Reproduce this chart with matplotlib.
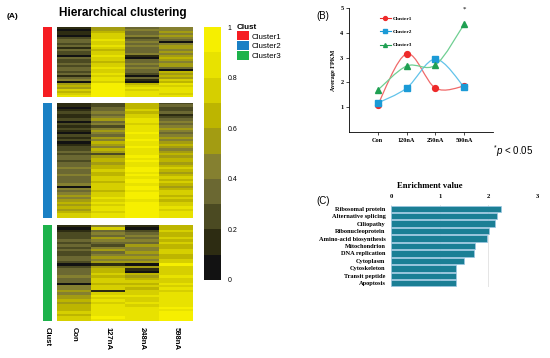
import numpy as np
import matplotlib.pyplot as plt
from matplotlib.colors import ListedColormap, BoundaryNorm
from matplotlib.path import Path
from matplotlib.patches import PathPatch, Patch
from matplotlib.lines import Line2D

plt.rcParams['font.family'] = 'Liberation Sans'
plt.rcParams['mathtext.fontset'] = 'custom'
plt.rcParams['mathtext.rm'] = 'Liberation Sans'
plt.rcParams['mathtext.it'] = 'Liberation Sans:italic'

W, H = 550, 358

def box(x0, y0, x1, y1):
    # pixel box -> figure fraction
    return [x0 / W, 1 - y1 / H, (x1 - x0) / W, (y1 - y0) / H]

# ---------- (A) heatmap: colour level (0..9) per gene row ----------
samples = ['Con', '127nA', '248nA', '598nA']
clusters = ['Cluster1', 'Cluster2', 'Cluster3']
cluster_colors = ['#f51d22', '#1a80c4', '#1db24b']

c1_con = [1, 0, 1, 1, 0, 2, 3, 3, 2, 3, 1, 3, 2, 2, 0, 3, 2, 2, 3, 2, 3, 3, 2, 3, 1, 3, 4, 0, 5, 6, 5, 7, 6, 7, 8]
c1_127 = [5, 5, 6, 7, 7, 7, 8, 7, 7, 8, 7, 6, 7, 7, 8, 7, 7, 6, 7, 7, 8, 7, 7, 8, 7, 8, 8, 7, 9, 9, 9, 9, 9, 9, 9]
c1_248 = [3, 4, 3, 3, 4, 2, 3, 4, 3, 4, 3, 3, 3, 4, 1, 0, 3, 3, 4, 3, 4, 3, 3, 2, 0, 3, 1, 0, 6, 7, 8, 7, 8, 8, 8]
c1_598 = [4, 4, 5, 4, 5, 4, 3, 0, 4, 5, 5, 4, 5, 4, 5, 6, 5, 4, 5, 5, 3, 0, 6, 5, 6, 5, 7, 6, 8, 7, 8, 8, 8, 7, 8]

c2_con = [1, 1, 0, 1, 2, 1, 1, 2, 0, 2, 1, 2, 1, 0, 2, 1, 2, 0, 1, 2, 2, 3, 2, 3, 3, 2, 3, 3, 4, 3, 3, 4, 3, 3, 3, 4, 0, 4, 3, 4, 5, 4, 5, 6, 5, 6, 5, 6, 7, 7]
c2_127 = [2, 2, 3, 3, 4, 3, 4, 5, 3, 4, 2, 4, 5, 4, 3, 5, 4, 6, 5, 4, 6, 5, 2, 5, 6, 6, 5, 6, 6, 7, 6, 6, 7, 7, 6, 7, 7, 7, 6, 7, 7, 8, 7, 8, 7, 8, 8, 7, 8, 8]
c2_248 = [6, 6, 6, 7, 6, 7, 7, 8, 8, 7, 8, 8, 8, 9, 8, 8, 9, 8, 8, 9, 8, 8, 8, 9, 8, 9, 8, 8, 9, 9, 8, 9, 8, 9, 9, 8, 9, 9, 8, 9, 9, 9, 8, 9, 9, 9, 9, 9, 9, 9]
c2_598 = [2, 3, 2, 2, 3, 1, 2, 3, 4, 3, 4, 5, 4, 3, 4, 5, 4, 5, 6, 5, 4, 5, 6, 5, 6, 6, 5, 6, 7, 6, 5, 6, 7, 6, 7, 6, 5, 6, 7, 7, 6, 7, 6, 7, 7, 8, 7, 8, 8, 8]

c3_con = [1, 0, 1, 2, 2, 2, 3, 2, 3, 2, 3, 2, 2, 3, 3, 2, 0, 2, 3, 3, 3, 4, 3, 3, 0, 4, 4, 5, 4, 5, 5, 6, 5, 6, 6, 6, 7, 6, 7, 7]
c3_127 = [4, 7, 3, 4, 3, 5, 4, 3, 2, 4, 5, 3, 4, 5, 4, 5, 1, 5, 6, 6, 7, 6, 7, 7, 6, 7, 7, 1, 7, 8, 7, 8, 7, 8, 8, 8, 8, 8, 9, 8]
c3_248 = [1, 0, 2, 3, 4, 3, 4, 3, 5, 4, 4, 5, 4, 5, 4, 5, 0, 5, 1, 0, 6, 5, 6, 7, 6, 7, 6, 7, 7, 8, 7, 7, 8, 7, 8, 8, 8, 8, 8, 8]
c3_598 = [6, 6, 7, 6, 6, 7, 6, 7, 6, 6, 7, 7, 6, 6, 7, 7, 9, 7, 7, 7, 7, 8, 7, 7, 8, 7, 8, 7, 8, 8, 8, 8, 8, 8, 9, 8, 9, 9, 9, 9]

# ---------- (B) line chart ----------
doses = ['Con', '120nA', '250nA', '500nA']
fpkm_c1 = [1.10, 3.15, 1.77, 1.85]
fpkm_c2 = [1.17, 1.77, 2.94, 1.81]
fpkm_c3 = [1.69, 2.66, 2.70, 4.35]

# ---------- (C) enrichment ----------
terms = ['Ribosomal protein', 'Alternative splicing', 'Ciliopathy', 'Ribonucleoprotein',
         'Amino-acid biosynthesis', 'Mitochondrion', 'DNA replication', 'Cytoplasm',
         'Cytoskeleton', 'Transit peptide', 'Apoptosis']
enrichment = [2.26, 2.17, 2.13, 2.02, 1.97, 1.72, 1.71, 1.51, 1.34, 1.34, 1.34]

heat_colors = ['#121212', '#2d2c12', '#4b4a22', '#6b6832', '#858030',
               '#a39c12', '#bdb500', '#d6cf00', '#e8e200', '#f6ef00']
cmap = ListedColormap(heat_colors)
norm = BoundaryNorm(np.linspace(0, 1, 11), cmap.N)

fig = plt.figure(figsize=(5.5, 3.58), dpi=100)

fig.text(7 / W, 1 - 17 / H, '(A)', fontsize=6, weight='bold', va='center')
fig.text(123 / W, 1 - 13 / H, 'Hierarchical clustering', fontsize=8.5, weight='bold',
         ha='center', va='center')

blocks = [
    (np.array([c1_con, c1_127, c1_248, c1_598]).T, (27, 97)),
    (np.array([c2_con, c2_127, c2_248, c2_598]).T, (103, 218)),
    (np.array([c3_con, c3_127, c3_248, c3_598]).T, (225, 321)),
]
clust_cmap = ListedColormap(cluster_colors)
for i, (levels, (y0, y1)) in enumerate(blocks):
    ax = fig.add_axes(box(57, y0, 192, y1))
    ax.imshow((levels + 0.5) / 10, cmap=cmap, norm=norm, aspect='auto',
              interpolation='nearest')
    ax.axis('off')
    sb = fig.add_axes(box(43, y0, 52, y1))
    sb.imshow([[i]], cmap=clust_cmap, vmin=0, vmax=2, aspect='auto')
    sb.axis('off')

fig.text(47.5 / W, 1 - 327 / H, 'Clust', fontsize=5.5, weight='bold', rotation=-90,
         ha='center', va='top')
for j, s in enumerate(samples):
    fig.text((74 + 34 * j) / W, 1 - 327 / H, s, fontsize=5.5, weight='bold',
             rotation=-90, ha='center', va='top')

cax = fig.add_axes(box(204, 27, 221, 280))
sm = plt.cm.ScalarMappable(cmap=cmap, norm=norm)
cb = fig.colorbar(sm, cax=cax, ticks=[0, 0.2, 0.4, 0.6, 0.8, 1])
cb.outline.set_visible(False)
cb.set_ticklabels(['0', '0.2', '0.4', '0.6', '0.8', '1'])
cax.minorticks_off()
cax.tick_params(which='both', length=0, labelsize=5, pad=5)

handles = [Patch(facecolor=c, edgecolor='none') for c in cluster_colors]
fig.legend(handles, clusters, loc='upper left', bbox_to_anchor=(237 / W, 1 - 24 / H),
           frameon=False, fontsize=5.8, title='Clust',
           title_fontproperties={'weight': 'bold', 'size': 5.8}, alignment='left',
           handlelength=1.5, handleheight=1.35, handletextpad=0.3, labelspacing=0.05,
           borderpad=0, borderaxespad=0)

# ---------- panel B ----------
serif = 'Liberation Serif'
axb = fig.add_axes(box(349, 8, 493, 132))
xs = np.arange(len(doses))

def smooth_path(x, y):
    p = np.column_stack([x, y]).astype(float)
    ext = np.vstack([p[0], p, p[-1]])
    verts = [p[0]]
    codes = [Path.MOVETO]
    for k in range(len(p) - 1):
        a, b, c, d = ext[k], ext[k + 1], ext[k + 2], ext[k + 3]
        verts += [b + (c - a) / 6, c - (d - b) / 6, c]
        codes += [Path.CURVE4] * 3
    return Path(verts, codes)

series = [(fpkm_c1, 'Cluster1', '#ee2a2a', '#f06a6a', 'o', 4.2),
          (fpkm_c2, 'Cluster2', '#1b9ad6', '#62c3ea', 's', 4.2),
          (fpkm_c3, 'Cluster3', '#1fa052', '#6fcf92', '^', 4.4)]
leg_handles = []
for vals, name, mc, lc, mk, ms in series:
    axb.add_patch(PathPatch(smooth_path(xs, vals), facecolor='none', edgecolor=lc, lw=0.9))
    axb.plot(xs, vals, ls='none', marker=mk, color=mc, ms=ms, zorder=3)
    leg_handles.append(Line2D([], [], color=mc, marker=mk, ms=2.8, lw=0.8, label=name))

axb.annotate('*', xy=(3, fpkm_c3[3]), xytext=(0, 11), textcoords='offset points',
             ha='center', va='center', fontsize=5, family=serif)
axb.set_xlim(-1, 4)
axb.set_ylim(0, 5)
axb.set_xticks(xs, doses)
axb.set_yticks([1, 2, 3, 4, 5])
for s in ['top', 'right']:
    axb.spines[s].set_visible(False)
for s in ['left', 'bottom']:
    axb.spines[s].set_linewidth(0.6)
axb.tick_params(length=2, width=0.5, pad=2)
for t in axb.get_xticklabels():
    t.set_fontproperties({'family': serif, 'weight': 'bold', 'size': 4.5})
for t in axb.get_yticklabels():
    t.set_fontproperties({'family': serif, 'weight': 'bold', 'size': 4.5})
axb.set_ylabel('Average FPKM', fontsize=4.5, family=serif, weight='bold', labelpad=3)
axb.legend(handles=leg_handles, loc='upper left', bbox_to_anchor=(0.18, 0.97),
           frameon=False, prop={'family': serif, 'weight': 'bold', 'size': 3.8},
           handlelength=2.2, handletextpad=0.2, labelspacing=1.6)

fig.text(316 / W, 1 - 16 / H, '(B)', fontsize=7, va='center')
fig.text(513 / W, 1 - 151 / H, r'$^{*}\mathit{p}$ < 0.05', fontsize=7, ha='center',
         va='center')

# ---------- panel C ----------
fig.text(316 / W, 1 - 201 / H, '(C)', fontsize=7, va='center')
axc = fig.add_axes(box(391, 205, 537, 287))
ys = np.arange(len(terms))
axc.barh(ys, enrichment, height=0.86, color='#1b7f95', edgecolor='#9cc8e4', linewidth=0.5)
axc.set_ylim(len(terms) - 0.5, -0.5)
axc.set_xlim(0, 3)
axc.xaxis.tick_top()
axc.set_xticks([0, 1, 2, 3])
axc.set_yticks(ys, terms)
axc.grid(axis='x', color='#e0e0e0', lw=0.6)
axc.set_axisbelow(True)
for s in axc.spines.values():
    s.set_visible(False)
axc.tick_params(length=0, pad=4)
for t in axc.get_xticklabels():
    t.set_fontproperties({'family': serif, 'weight': 'bold', 'size': 4.8})
for t in axc.get_yticklabels():
    t.set_fontproperties({'family': serif, 'weight': 'bold', 'size': 4.6})
fig.text(430 / W, 1 - 186 / H, 'Enrichment value', fontsize=6.2, family=serif,
         weight='bold', ha='center', va='center')

fig.savefig('out.png', dpi=100)
